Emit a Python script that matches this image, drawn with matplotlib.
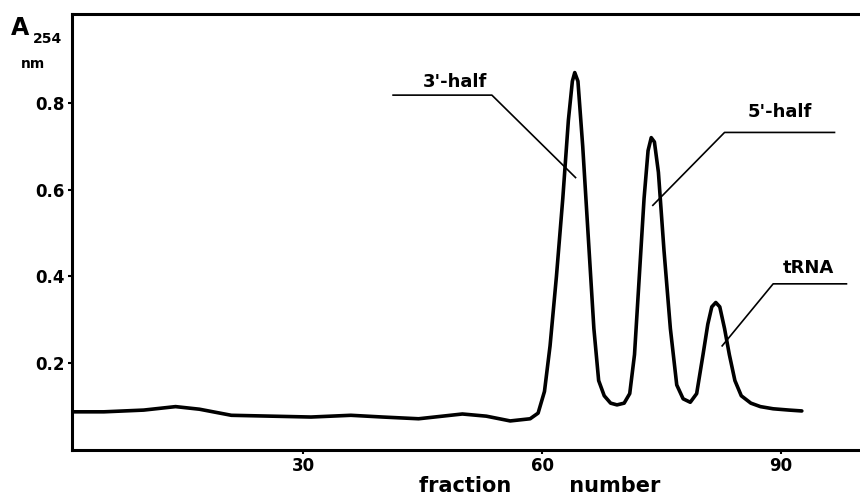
import matplotlib
matplotlib.use("Agg")
import matplotlib.pyplot as plt

# fraction number vs absorbance at 254 nm
fractions = [1, 5, 10, 14, 17, 21, 26, 31, 36, 40, 44.5, 50, 53, 56, 58.5, 59.5,
             60.3, 61, 61.8, 62.6, 63.3, 63.8, 64.1, 64.5, 65.1, 65.9, 66.5, 67.1,
             67.8, 68.6, 69.4, 70.3, 71, 71.6, 72.2, 72.8, 73.3, 73.7, 74.1, 74.6,
             75.3, 76.1, 76.9, 77.7, 78.6, 79.4, 80.2, 80.8, 81.3, 81.8, 82.3,
             82.9, 83.5, 84.2, 85, 86.2, 87.4, 89, 91, 92.6]
a254 = [0.088, 0.088, 0.092, 0.100, 0.094, 0.080, 0.078, 0.076, 0.080, 0.076, 0.072,
        0.083, 0.078, 0.067, 0.072, 0.085, 0.135, 0.24, 0.40, 0.58, 0.76, 0.85,
        0.87, 0.85, 0.70, 0.46, 0.28, 0.16, 0.125, 0.108, 0.104, 0.108, 0.13,
        0.22, 0.40, 0.58, 0.69, 0.72, 0.71, 0.64, 0.46, 0.28, 0.15, 0.118, 0.11,
        0.13, 0.22, 0.29, 0.33, 0.34, 0.33, 0.28, 0.22, 0.16, 0.125, 0.108,
        0.10, 0.095, 0.092, 0.090]

x_ticks = [30, 60, 90]
y_ticks = [0.2, 0.4, 0.6, 0.8]
y_tick_labels = ["0.2", "0.4", "0.6", "0.8"]

# peak labels: text, text position, leader line (knee start, knee end, tip)
peak_labels = [
    ("3'-half", (49.1, 0.848), [(41.3, 0.818), (53.7, 0.818), (64.2, 0.628)]),
    ("5'-half", (89.8, 0.778), [(96.7, 0.732), (82.9, 0.732), (73.9, 0.564)]),
    ("tRNA", (93.4, 0.420), [(98.2, 0.383), (89.0, 0.383), (82.6, 0.240)]),
]

fig = plt.figure(figsize=(8.6, 5.0), dpi=100)
ax = fig.add_axes([0.0837, 0.10, 0.9163, 0.872])

ax.plot(fractions, a254, color="black", lw=2.6, solid_capstyle="round",
        solid_joinstyle="round")

for text, (tx, ty), pts in peak_labels:
    xs = [p[0] for p in pts]
    ys = [p[1] for p in pts]
    ax.plot(xs, ys, color="black", lw=1.2)
    ax.text(tx, ty, text, ha="center", va="center", fontsize=13,
            fontweight="bold")

ax.set_xlim(1.0, 99.9)
ax.set_ylim(0, 1.005)
ax.set_xticks(x_ticks)
ax.set_xticklabels([str(t) for t in x_ticks])
ax.set_yticks(y_ticks)
ax.set_yticklabels(y_tick_labels)
ax.tick_params(axis="both", direction="out", length=3, width=1.5,
               labelsize=12, pad=2)
for lab in ax.get_xticklabels() + ax.get_yticklabels():
    lab.set_fontweight("bold")

ax.spines["right"].set_visible(False)
for side in ("left", "top", "bottom"):
    ax.spines[side].set_linewidth(2.2)

# y-axis label written as A254 over nm at the top left
fig.text(20 / 860, 1 - 28 / 500, "A", fontsize=17, fontweight="bold",
         ha="center", va="center")
fig.text(48 / 860, 1 - 39 / 500, "254", fontsize=10, fontweight="bold",
         ha="center", va="center")
fig.text(33 / 860, 1 - 64 / 500, "nm", fontsize=10, fontweight="bold",
         ha="center", va="center")
fig.text(540 / 860, 1 - 486 / 500, "fraction        number", fontsize=15,
         fontweight="bold", ha="center", va="center")

fig.savefig("out.png", dpi=100)
